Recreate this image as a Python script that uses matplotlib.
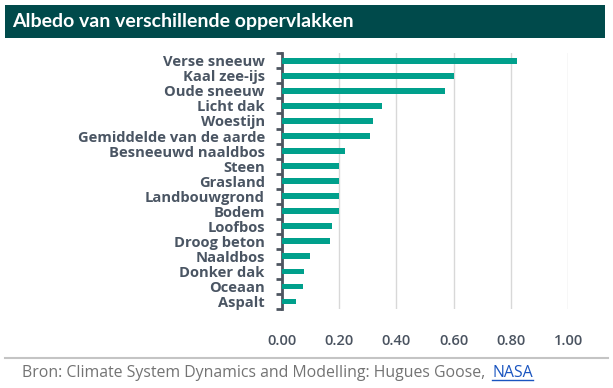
import matplotlib
matplotlib.use("Agg")
import matplotlib.pyplot as plt
from matplotlib.patches import Rectangle
from matplotlib.lines import Line2D

categories = ["Verse sneeuw", "Kaal zee-ijs", "Oude sneeuw", "Licht dak", "Woestijn",
              "Gemiddelde van de aarde", "Besneeuwd naaldbos", "Steen", "Grasland",
              "Landbouwgrond", "Bodem", "Loofbos", "Droog beton", "Naaldbos",
              "Donker dak", "Oceaan", "Aspalt"]
values = [0.82, 0.60, 0.57, 0.35, 0.32, 0.31, 0.22, 0.20, 0.20, 0.20, 0.20,
          0.175, 0.17, 0.10, 0.08, 0.075, 0.05]
xticks = [0.0, 0.2, 0.4, 0.6, 0.8, 1.0]
xticklabels = ["0.00", "0.20", "0.40", "0.60", "0.80", "1.00"]

W, H = 613, 388
fig = plt.figure(figsize=(W / 100, H / 100), dpi=100)
fig.patch.set_facecolor("white")

# title bar
fig.patches.append(Rectangle((5 / W, 1 - 38 / H), 600 / W, 33 / H,
                             transform=fig.transFigure, facecolor="#004a4b",
                             edgecolor="none", zorder=0))
fig.text(12 / W, 1 - 22 / H, "Albedo van verschillende oppervlakken",
         color="white", fontsize=14, fontweight="bold", family="Lato",
         va="center", ha="left")

x0, x1 = 281.5, 568.2
y_top, y_bot = 53.3, 309
ax = fig.add_axes([x0 / W, 1 - y_bot / H, (x1 - x0) / W, (y_bot - y_top) / H])
ypos = list(range(len(categories)))
ax.barh(ypos, values, height=0.38, color="#00a08c", zorder=3)
ax.set_xlim(0, 1.0)
ax.set_ylim(len(categories) - 0.5, -0.5)

ax.set_xticks(xticks)
ax.set_xticklabels(xticklabels)
ax.grid(axis="x", color="#d8d8d8", linewidth=1, zorder=0)
ax.tick_params(axis="x", length=0, pad=18, labelsize=10.5, labelcolor="#4a5360")
for t in ax.get_xticklabels():
    t.set_family("Open Sans")
    t.set_fontweight("semibold")

ax.set_yticks(ypos)
ax.set_yticklabels(categories)
ax.set_yticks([i + 0.5 for i in range(-1, len(categories))], minor=True)
ax.tick_params(axis="y", which="major", length=0, pad=12, labelsize=10.6,
               labelcolor="#4a5563")
ax.tick_params(axis="y", which="minor", length=4, width=2, color="#4d5560")
for t in ax.get_yticklabels():
    t.set_family("Open Sans")
    t.set_fontweight("bold")

for s in ["top", "right", "bottom"]:
    ax.spines[s].set_visible(False)
ax.spines["left"].set_color("#4d5560")
ax.spines["left"].set_linewidth(2)

# separator and source
fig.add_artist(Line2D([5 / W, 608 / W], [1 - 358 / H, 1 - 358 / H],
                      transform=fig.transFigure, color="#c4c4c4", linewidth=1.5))
src = fig.text(22 / W, 1 - 373 / H,
               "Bron: Climate System Dynamics and Modelling: Hugues Goose, ",
               color="#737373", fontsize=11.4, family="Open Sans",
               va="center", ha="left")
fig.canvas.draw()
bb = src.get_window_extent()
nasa_x = bb.x1 / W + 3 / W
fig.text(nasa_x, 1 - 373 / H, "NASA", color="#1a55c0", fontsize=11.4,
         family="Open Sans", va="center", ha="left")
fig.canvas.draw()
nb = fig.texts[-1].get_window_extent()
fig.add_artist(Line2D([nb.x0 / W, nb.x1 / W], [(nb.y0 + 1) / H, (nb.y0 + 1) / H],
                      transform=fig.transFigure, color="#1a55c0", linewidth=1))

fig.savefig("out.png", dpi=100, facecolor="white")
